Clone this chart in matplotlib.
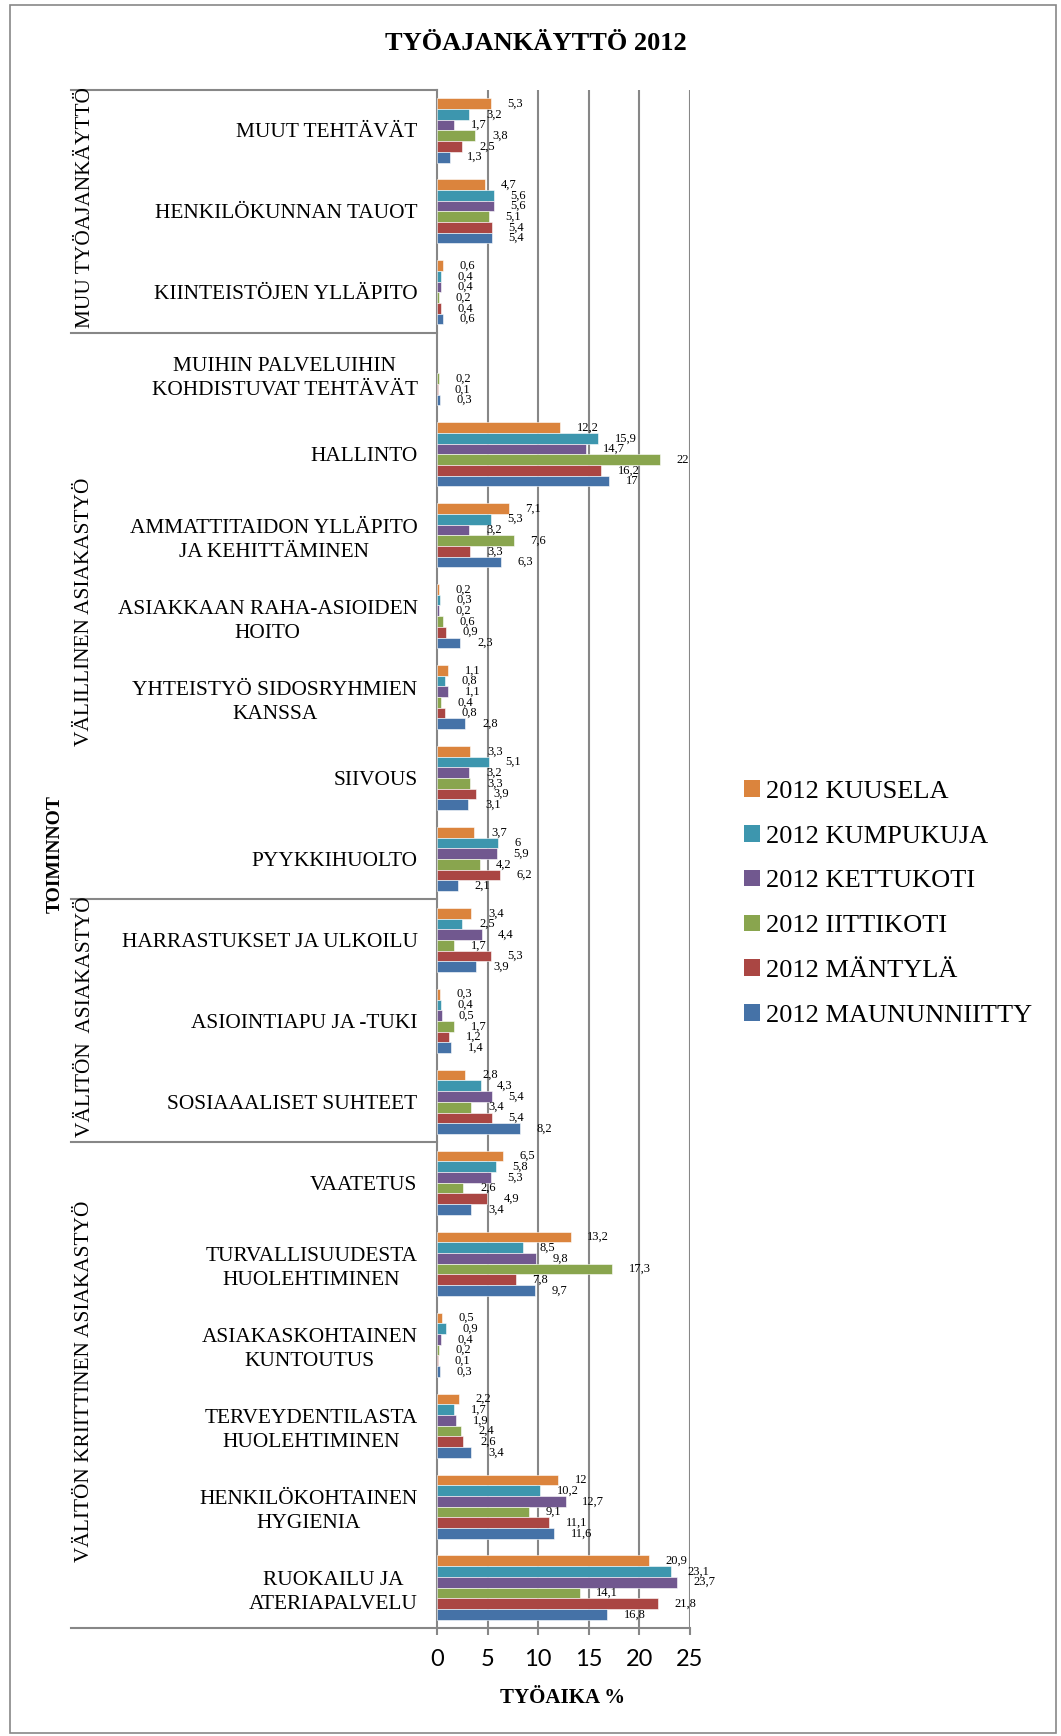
import matplotlib
matplotlib.use("Agg")
import matplotlib.pyplot as plt
from matplotlib.lines import Line2D
from matplotlib.patches import Rectangle, Patch
import numpy as np

W, H = 1061, 1736

categories = [
    "MUUT TEHTÄVÄT",
    "HENKILÖKUNNAN TAUOT",
    "KIINTEISTÖJEN YLLÄPITO",
    "MUIHIN PALVELUIHIN\nKOHDISTUVAT TEHTÄVÄT",
    "HALLINTO",
    "AMMATTITAIDON YLLÄPITO\nJA KEHITTÄMINEN",
    "ASIAKKAAN RAHA-ASIOIDEN\nHOITO",
    "YHTEISTYÖ SIDOSRYHMIEN\nKANSSA",
    "SIIVOUS",
    "PYYKKIHUOLTO",
    "HARRASTUKSET JA ULKOILU",
    "ASIOINTIAPU JA -TUKI",
    "SOSIAAALISET SUHTEET",
    "VAATETUS",
    "TURVALLISUUDESTA\nHUOLEHTIMINEN",
    "ASIAKASKOHTAINEN\nKUNTOUTUS",
    "TERVEYDENTILASTA\nHUOLEHTIMINEN",
    "HENKILÖKOHTAINEN\nHYGIENIA",
    "RUOKAILU JA\nATERIAPALVELU",
]

nan = np.nan
kuusela = [5.3, 4.7, 0.6, nan, 12.2, 7.1, 0.2, 1.1, 3.3, 3.7, 3.4, 0.3, 2.8, 6.5, 13.2, 0.5, 2.2, 12, 20.9]
kumpukuja = [3.2, 5.6, 0.4, nan, 15.9, 5.3, 0.3, 0.8, 5.1, 6, 2.5, 0.4, 4.3, 5.8, 8.5, 0.9, 1.7, 10.2, 23.1]
kettukoti = [1.7, 5.6, 0.4, nan, 14.7, 3.2, 0.2, 1.1, 3.2, 5.9, 4.4, 0.5, 5.4, 5.3, 9.8, 0.4, 1.9, 12.7, 23.7]
iittikoti = [3.8, 5.1, 0.2, 0.2, 22, 7.6, 0.6, 0.4, 3.3, 4.2, 1.7, 1.7, 3.4, 2.6, 17.3, 0.2, 2.4, 9.1, 14.1]
mantyla = [2.5, 5.4, 0.4, 0.1, 16.2, 3.3, 0.9, 0.8, 3.9, 6.2, 5.3, 1.2, 5.4, 4.9, 7.8, 0.1, 2.6, 11.1, 21.8]
maununniitty = [1.3, 5.4, 0.6, 0.3, 17, 6.3, 2.3, 2.8, 3.1, 2.1, 3.9, 1.4, 8.2, 3.4, 9.7, 0.3, 3.4, 11.6, 16.8]

series_names = ["2012 KUUSELA", "2012 KUMPUKUJA", "2012 KETTUKOTI",
                "2012 IITTIKOTI", "2012 MÄNTYLÄ", "2012 MAUNUNNIITTY"]
series = [kuusela, kumpukuja, kettukoti, iittikoti, mantyla, maununniitty]
colors = ["#DB843D", "#3D96AE", "#71588F", "#89A54E", "#AA4643", "#4572A7"]

groups = ["MUU TYÖAJANKÄYTTÖ", "VÄLILLINEN ASIAKASTYÖ",
          "VÄLITÖN  ASIAKASTYÖ", "VÄLITÖN KRIITTINEN ASIAKASTYÖ"]
group_sizes = [3, 7, 3, 6]

xticks = [0, 5, 10, 15, 20, 25]

SERIF = "Liberation Serif"
GRAY = "#878787"


def fx(x):
    return x / W


def fy(y):
    return 1 - y / H


def fmt(v):
    if float(v).is_integer():
        return str(int(v))
    return str(v).replace(".", ",")


fig = plt.figure(figsize=(W / 100, H / 100), dpi=100)
plt.rcParams["font.family"] = SERIF

ax_l, ax_r, ax_t, ax_b = 437, 690, 90, 1628
ax = fig.add_axes([fx(ax_l), fy(ax_b), fx(ax_r) - fx(ax_l), fy(ax_t) - fy(ax_b)])

n = len(categories)
y = np.arange(n)
bh = 0.132
for j, (vals, col) in enumerate(zip(series, colors)):
    vals = np.array(vals, dtype=float)
    pos = y + (j - 2.5) * bh
    ax.barh(pos, vals, height=bh, color=col, edgecolor="white", linewidth=0.4, zorder=3)
    for p, v in zip(pos, vals):
        if np.isnan(v):
            continue
        ax.annotate(fmt(v), (v, p), xytext=(12, 0), textcoords="offset points",
                    ha="left", va="center", fontsize=9, family=SERIF, zorder=4)

ax.set_xlim(0, 25)
ax.set_ylim(n - 0.5, -0.5)
ax.set_xticks(xticks)
ax.set_xticklabels([str(t) for t in xticks], family="Lato", fontsize=17)
ax.set_yticks(y)
ax.set_yticklabels(categories, fontsize=15.4, family=SERIF)
for lbl in ax.get_yticklabels():
    lbl.set_multialignment("center")
    lbl.set_linespacing(1.35)
ax.tick_params(axis="y", length=0, pad=14)
ax.tick_params(axis="x", length=5, width=1.5, color=GRAY, pad=10)
for t in xticks[1:]:
    ax.axvline(t, color=GRAY, lw=1.5, zorder=1)
for s in ["top", "right"]:
    ax.spines[s].set_visible(False)
ax.spines["left"].set_color(GRAY)
ax.spines["left"].set_linewidth(1.5)
ax.spines["bottom"].set_visible(False)

# group separators and bottom axis line
cat_h = (ax_b - ax_t) / n
bounds = [ax_t]
for g in group_sizes:
    bounds.append(bounds[-1] + g * cat_h)
for b in bounds:
    x_end = ax_r if b == bounds[-1] else ax_l
    fig.add_artist(Line2D([fx(71), fx(x_end)], [fy(b), fy(b)], color=GRAY, lw=1.5))
for g, b0, b1 in zip(groups, bounds[:-1], bounds[1:]):
    fig.text(fx(85), fy((b0 + b1) / 2 - 4), g, rotation=90, ha="center", va="center",
             fontsize=15.4, family=SERIF)

fig.text(fx(55), fy(854), "TOIMINNOT", rotation=90, ha="center", va="center",
         fontsize=14, fontweight="bold", family=SERIF)
fig.text(fx(536), fy(43), "TYÖAJANKÄYTTÖ 2012", ha="center", va="center",
         fontsize=19, fontweight="bold", family=SERIF)
fig.text(fx(563), fy(1698), "TYÖAIKA %", ha="center", va="center",
         fontsize=15, fontweight="bold", family=SERIF)

handles = [Patch(facecolor=c, edgecolor="none") for c in colors]
fig.legend(handles, series_names, loc="upper left",
           bbox_to_anchor=(fx(744), fy(780)), frameon=False, borderpad=0,
           borderaxespad=0, handlelength=0.6, handleheight=0.6, handletextpad=0.25,
           labelspacing=0.84, prop={"family": SERIF, "size": 19})

fig.add_artist(Rectangle((fx(10), fy(1733)), fx(1056) - fx(10), fy(5) - fy(1733),
                         fill=False, edgecolor=GRAY, lw=1.2, transform=fig.transFigure))

fig.savefig("out.png", dpi=100)
